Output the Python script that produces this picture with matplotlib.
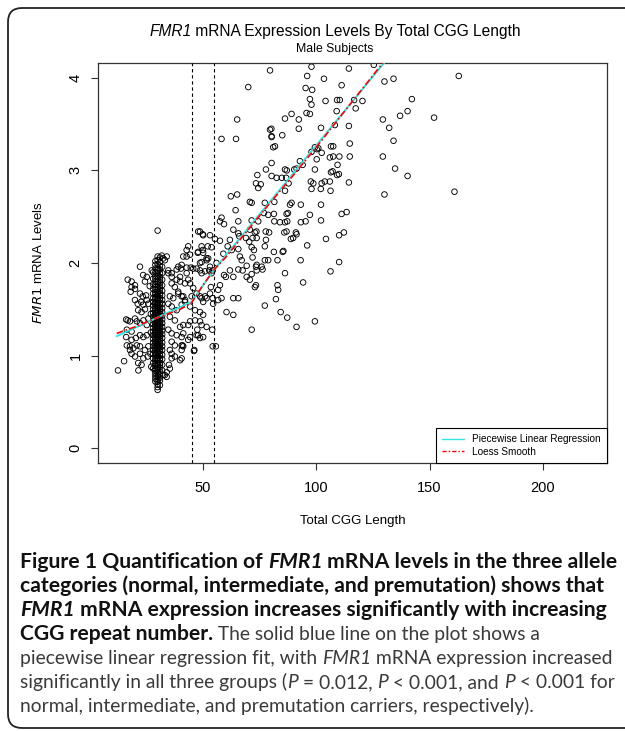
import matplotlib
matplotlib.use("Agg")
import matplotlib.pyplot as plt
from matplotlib.patches import FancyBboxPatch
from matplotlib.lines import Line2D

# ---- data ----
# dense column of normal alleles (CGG ~ 28-32)
col28_y = [0.86, 0.92, 0.97, 1.02, 1.06, 1.10, 1.14, 1.18, 1.22, 1.26, 1.30, 1.34, 1.38, 1.42, 1.46, 1.50,
           1.54, 1.58, 1.62, 1.67, 1.72, 1.77, 1.83, 1.90]
col29_y = [0.72, 0.75, 0.78, 0.81, 0.84, 0.86, 0.89, 0.91, 0.94, 0.96, 0.99, 1.01, 1.03, 1.06, 1.08, 1.10,
           1.13, 1.15, 1.17, 1.19, 1.22, 1.24, 1.26, 1.28, 1.31, 1.33, 1.35, 1.37, 1.40, 1.42, 1.44, 1.46,
           1.49, 1.51, 1.53, 1.56, 1.58, 1.61, 1.63, 1.66, 1.68, 1.71, 1.74, 1.77, 1.80, 1.83, 1.86, 1.90,
           1.94, 1.98, 2.02]
col30_y = [0.63, 0.66, 0.69, 0.72, 0.74, 0.77, 0.79, 0.82, 0.85, 0.87, 0.90, 0.92, 0.95, 0.97, 1.00, 1.02,
           1.04, 1.07, 1.09, 1.11, 1.13, 1.16, 1.18, 1.20, 1.22, 1.24, 1.26, 1.28, 1.30, 1.32, 1.34, 1.36,
           1.38, 1.40, 1.42, 1.44, 1.46, 1.48, 1.51, 1.53, 1.55, 1.57, 1.60, 1.62, 1.64, 1.67, 1.69, 1.72,
           1.74, 1.77, 1.80, 1.83, 1.86, 1.89, 1.92, 1.95, 1.99, 2.03, 2.07, 2.35]
col31_y = [0.68, 0.73, 0.76, 0.80, 0.83, 0.87, 0.90, 0.92, 0.95, 0.97, 1.00, 1.02, 1.05, 1.07, 1.09, 1.12,
           1.14, 1.16, 1.18, 1.21, 1.23, 1.25, 1.27, 1.30, 1.32, 1.34, 1.36, 1.39, 1.41, 1.43, 1.45, 1.48,
           1.50, 1.52, 1.55, 1.57, 1.60, 1.62, 1.65, 1.67, 1.70, 1.73, 1.76, 1.79, 1.82, 1.85, 1.89, 1.93,
           1.97, 2.01, 2.06]
col32_y = [0.84, 0.90, 0.96, 1.01, 1.06, 1.10, 1.14, 1.19, 1.23, 1.27, 1.31, 1.35, 1.39, 1.43, 1.47, 1.51,
           1.56, 1.60, 1.65, 1.70, 1.76, 1.82, 1.89, 1.96]

# scattered points left of the column
left_x = [22.2, 16.8, 18.5, 23.6, 25.2, 24.4, 18.1, 20.0, 22.2, 23.4, 24.9, 20.0, 21.2, 22.7, 23.7, 25.2,
          25.9, 21.4, 22.9, 24.4, 16.8, 17.8, 20.0, 20.8, 22.2, 23.7, 25.2, 25.9, 16.4, 18.5, 16.1, 18.5,
          20.4, 22.2, 23.7, 25.2, 16.4, 17.8, 19.3, 20.8, 22.2, 24.4, 25.9, 18.5, 20.0, 22.2, 23.7, 25.6,
          15.2, 21.4, 22.9, 12.5, 21.5, 17.8, 18.5, 20.0, 27.4, 26.5, 27.0, 27.0, 26.8, 27.2, 16.1]
left_y = [1.96, 1.82, 1.80, 1.87, 1.85, 1.80, 1.69, 1.72, 1.67, 1.64, 1.65, 1.60, 1.56, 1.58, 1.55, 1.60,
          1.56, 1.49, 1.47, 1.50, 1.38, 1.37, 1.40, 1.37, 1.35, 1.38, 1.33, 1.40, 1.28, 1.26, 1.20, 1.17,
          1.19, 1.22, 1.20, 1.22, 1.11, 1.10, 1.08, 1.11, 1.10, 1.06, 1.10, 1.02, 0.99, 1.02, 0.97, 0.99,
          0.94, 0.92, 0.90, 0.84, 0.84, 1.06, 1.74, 1.76, 1.92, 1.75, 1.45, 1.25, 1.02, 0.88, 1.39]

# points between the column and ~60 repeats
near_x = [34.7, 36.2, 33.2, 31.8, 39.1, 40.6, 42.8, 44.3, 47.9, 51.6, 53.1, 48.7, 36.2, 37.6, 39.9, 42.1,
          43.5, 39.1, 41.3, 36.9, 34.7, 36.2, 38.4, 40.6, 42.1, 44.3, 46.5, 48.7, 50.1, 47.2, 48.7, 50.1,
          51.6, 53.1, 54.5, 56.7, 58.2, 35.4, 37.6, 39.9, 41.3, 43.5, 44.3, 46.5, 48.7, 49.4, 47.5, 34.7,
          36.2, 38.4, 41.3, 40.6, 43.5, 44.3, 47.2, 48.7, 36.2, 37.6, 40.6, 41.3, 40.6, 46.0, 46.2, 54.3,
          55.7, 35.4, 36.2, 37.6, 40.6, 39.9, 35.0, 35.4, 34.0, 32.5, 36.2, 41.0, 47.9, 50.1, 54.1, 51.6,
          34.0, 32.5, 34.7, 36.2, 38.4, 39.9, 39.1, 35.4, 44.3, 45.7, 45.0, 42.8, 40.6, 42.1, 40.3, 42.8,
          44.6, 45.7, 38.4, 41.3, 50.1, 49.4, 49.9, 47.9, 49.9, 43.5, 42.8, 52.1, 53.8, 47.7, 53.1, 55.3,
          57.5, 48.7, 50.1, 47.2, 48.7, 49.4, 50.9, 52.8, 54.3, 51.6, 52.3, 49.4, 56.0, 53.5, 53.8, 56.7,
          57.5, 54.3, 49.4, 50.9, 34.0, 33.2]
near_y = [1.89, 1.85, 2.03, 2.08, 1.96, 1.98, 2.07, 2.09, 2.12, 2.05, 1.96, 2.00, 1.78, 1.74, 1.80, 1.78,
          1.82, 1.67, 1.64, 1.62, 1.56, 1.53, 1.49, 1.55, 1.58, 1.53, 1.49, 1.47, 1.44, 1.67, 1.64, 1.58,
          1.62, 1.67, 1.56, 1.60, 1.62, 1.42, 1.38, 1.31, 1.33, 1.33, 1.37, 1.38, 1.37, 1.33, 1.28, 1.28,
          1.24, 1.22, 1.24, 1.20, 1.17, 1.20, 1.22, 1.19, 1.15, 1.11, 1.11, 1.10, 1.06, 1.05, 1.06, 1.10,
          1.10, 1.06, 1.02, 0.99, 0.97, 0.95, 0.90, 0.86, 0.82, 0.79, 0.97, 1.11, 1.22, 1.20, 1.28, 1.31,
          2.07, 2.05, 1.92, 1.89, 1.82, 1.85, 1.69, 1.64, 1.78, 1.73, 1.64, 1.89, 1.64, 1.60, 1.94, 1.95,
          1.95, 1.94, 1.93, 2.07, 2.11, 2.18, 2.14, 2.34, 2.31, 2.18, 2.14, 2.18, 2.17, 2.11, 2.30, 2.26,
          2.24, 2.34, 2.30, 1.94, 1.92, 1.89, 1.91, 1.92, 1.92, 2.03, 2.05, 2.01, 2.00, 1.74, 1.89, 1.71,
          1.76, 1.62, 1.62, 1.64, 0.77, 0.79]

# intermediate / low premutation range (~58-72)
mid_x = [70.0, 65.1, 58.2, 64.6, 62.3, 65.1, 70.7, 64.4, 58.2, 57.5, 59.3, 65.6, 63.4, 65.6, 70.7, 69.0,
         61.9, 66.0, 60.9, 62.7, 65.6, 70.4, 71.5, 59.0, 67.1, 69.3, 66.3, 71.9, 59.3, 60.1, 65.6, 67.5,
         63.4, 69.3, 70.7, 72.9, 61.9, 63.4, 65.6, 60.4, 63.4, 71.5]
mid_y = [3.90, 3.55, 3.34, 3.34, 2.72, 2.74, 2.66, 2.57, 2.49, 2.45, 2.42, 2.45, 2.36, 2.32, 2.36, 2.27,
         2.25, 2.29, 2.18, 2.14, 2.15, 2.23, 2.17, 2.10, 2.03, 1.97, 2.07, 2.06, 1.87, 1.85, 1.93, 1.92,
         1.85, 1.85, 1.82, 1.74, 1.92, 1.62, 1.62, 1.47, 1.44, 1.28]

# premutation range (~72-125)
pm_x = [79.6, 97.9, 114.4, 125.4, 96.0, 103.4, 111.2, 95.3, 98.2, 97.2, 104.1, 109.2, 110.4, 116.7, 120.4,
        97.9, 117.4, 86.2, 89.1, 92.3, 95.7, 97.2, 109.0, 79.6, 80.2, 92.3, 102.1, 108.2, 114.4, 85.0,
        80.3, 81.0, 81.8, 99.4, 106.5, 107.5, 114.8, 97.9, 100.2, 106.0, 107.5, 114.8, 100.2, 80.3, 109.4,
        74.0, 77.8, 86.2, 87.0, 90.3, 91.3, 80.3, 82.5, 99.4, 106.5, 107.2, 109.2, 110.0, 73.4, 75.5,
        74.4, 84.8, 86.7, 87.8, 97.6, 98.7, 102.4, 103.8, 106.0, 86.2, 97.9, 102.0, 106.3, 114.4, 77.3,
        81.5, 88.4, 89.1, 93.2, 102.1, 71.5, 76.9, 78.8, 81.3, 86.9, 87.5, 97.2, 111.2, 113.4, 71.5,
        74.4, 81.5, 84.0, 86.2, 87.2, 93.2, 95.3, 102.1, 72.9, 73.6, 77.7, 79.2, 85.9, 86.9, 91.0, 91.3,
        104.3, 110.1, 112.2, 71.9, 73.7, 77.8, 88.8, 89.8, 77.3, 85.2, 85.5, 96.0, 72.5, 81.3, 77.3,
        78.8, 82.9, 93.1, 110.1, 73.7, 73.4, 75.9, 71.5, 73.7, 76.3, 86.2, 106.3, 73.4, 82.9, 83.2,
        94.2, 82.2, 77.3, 84.3, 87.2, 99.4, 91.3, 92.8, 94.0, 102.4, 110.2, 100.9, 80.3]
pm_y = [4.08, 4.12, 4.10, 4.14, 4.02, 3.99, 3.92, 3.89, 3.87, 3.77, 3.75, 3.76, 3.76, 3.76, 3.75,
        3.71, 3.67, 3.56, 3.61, 3.55, 3.62, 3.61, 3.64, 3.44, 3.45, 3.45, 3.46, 3.49, 3.48, 3.38,
        3.36, 3.25, 3.26, 3.25, 3.26, 3.26, 3.29, 3.20, 3.23, 3.14, 3.15, 3.15, 3.12, 3.08, 3.06,
        2.95, 3.01, 3.01, 3.00, 3.01, 3.02, 2.94, 2.92, 3.01, 2.98, 2.99, 2.95, 2.96, 2.86, 2.85,
        2.81, 2.92, 2.92, 2.86, 2.88, 2.86, 2.86, 2.88, 2.88, 2.78, 2.80, 2.80, 2.78, 2.87, 2.65,
        2.66, 2.63, 2.65, 2.63, 2.63, 2.65, 2.54, 2.52, 2.53, 2.53, 2.54, 2.52, 2.53, 2.55, 2.46,
        2.45, 2.45, 2.44, 2.44, 2.45, 2.44, 2.45, 2.46, 2.33, 2.34, 2.34, 2.33, 2.33, 2.34, 2.33, 2.31,
        2.26, 2.30, 2.33, 2.27, 2.27, 2.25, 2.26, 2.27, 2.18, 2.12, 2.13, 2.19, 2.14, 2.12, 2.03,
        2.03, 2.03, 2.03, 2.01, 1.98, 1.96, 1.96, 1.88, 1.92, 1.93, 1.89, 1.91, 1.76, 1.76, 1.71,
        1.79, 1.61, 1.54, 1.47, 1.41, 1.37, 1.31, 3.10, 3.06, 3.19, 3.15, 3.24, 3.37]

# large premutation alleles
hi_x = [130.1, 134.1, 162.9, 142.2, 129.4, 137.0, 140.3, 152.0, 132.2, 134.1, 129.4, 134.8, 140.3, 130.1, 161.0]
hi_y = [3.96, 3.99, 4.02, 3.77, 3.55, 3.59, 3.64, 3.57, 3.46, 3.32, 3.15, 3.02, 2.94, 2.74, 2.77]

# fitted curves
pw_x = [12.0, 45.0, 55.0, 140.0]
pw_y = [1.21, 1.58, 1.93, 4.46]
lo_x = [12.0, 20.0, 30.0, 40.0, 45.0, 50.0, 55.0, 60.0, 70.0, 80.0, 90.0, 100.0, 110.0, 120.0, 130.0, 140.0]
lo_y = [1.24, 1.31, 1.41, 1.50, 1.57, 1.76, 1.93, 2.06, 2.36, 2.66, 2.95, 3.25, 3.56, 3.87, 4.18, 4.48]

cut_points = [45, 55]

all_x = ([28] * len(col28_y) + [29] * len(col29_y) + [30] * len(col30_y) + [31] * len(col31_y)
         + [32] * len(col32_y) + left_x + near_x + mid_x + pm_x + hi_x)
all_y = col28_y + col29_y + col30_y + col31_y + col32_y + left_y + near_y + mid_y + pm_y + hi_y

W, H = 625, 731
fig = plt.figure(figsize=(W / 100, H / 100), dpi=100)
ax = fig.add_axes([98 / W, 1 - 463 / H, 509 / W, 400 / H])

ax.scatter(all_x, all_y, s=16, facecolors='none', edgecolors='black', linewidths=0.65, zorder=2)
for c in cut_points:
    ax.axvline(c, color='black', lw=0.8, ls=(0, (3, 2.5)), zorder=3)
ax.plot(pw_x, pw_y, color='#33e6e6', lw=1.4, zorder=4)
ax.plot(lo_x, lo_y, color='red', lw=1.2, ls=(0, (4, 1.5, 1, 1.5)), zorder=5)

ax.set_xlim(3.68, 228.32)
ax.set_ylim(-0.16, 4.16)
ax.set_xticks([50, 100, 150, 200])
ax.set_yticks([0, 1, 2, 3, 4])
ax.tick_params(direction='out', length=5, width=0.8, labelsize=10.5, color='#333333')
ax.tick_params(axis='x', pad=8)
ax.tick_params(axis='y', pad=6)
plt.setp(ax.get_yticklabels(), rotation=90, va='center')
for lab in ax.get_xticklabels() + ax.get_yticklabels():
    lab.set_family('Liberation Sans')
for sp in ax.spines.values():
    sp.set_linewidth(0.9)
    sp.set_color('#333333')

ax.set_xlabel('Total CGG Length', family='Liberation Sans', fontsize=9.5)
ax.xaxis.set_label_coords(0.5, -0.13)
ax.set_ylabel(r'$\it{FMR1}$ mRNA Levels', family='Liberation Sans', fontsize=9.5)
ax.yaxis.set_label_coords(-0.104, 0.5)

handles = [Line2D([], [], color='#33e6e6', lw=1.0),
           Line2D([], [], color='red', lw=1.0, ls=(0, (3, 1.5, 1, 1.5)))]
leg = ax.legend(handles, ['Piecewise Linear Regression', 'Loess Smooth'], loc='lower right',
                borderaxespad=0, fancybox=False, edgecolor='black', framealpha=1,
                prop={'family': 'Liberation Sans', 'size': 7.2}, handlelength=2.2,
                borderpad=0.6, labelspacing=0.25)
leg.get_frame().set_linewidth(0.8)

renderer = fig.canvas.get_renderer()


def make_texts(y_px, segs, sizes, family):
    out = []
    for s, weight, style, color in segs:
        out.append(fig.text(0, 1 - y_px / H, s, fontsize=sizes[weight], family=family,
                            weight=weight, style=style, color=color, va='baseline'))
    return out


def put_line(x_px, y_px, segs, sizes, family, center=False):
    texts = make_texts(y_px, segs, sizes, family)
    widths = [t.get_window_extent(renderer).width for t in texts]
    start = x_px - sum(widths) / 2 if center else x_px
    for t, w in zip(texts, widths):
        t.set_x(start / W)
        start += w


def line_width(segs, sizes, family):
    texts = make_texts(0, segs, sizes, family)
    w = sum(t.get_window_extent(renderer).width for t in texts)
    for t in texts:
        t.remove()
    return w


put_line(335, 36, [('FMR1', 'normal', 'italic', 'black'),
                   (' mRNA Expression Levels By Total CGG Length', 'normal', 'normal', 'black')],
         {'normal': 11.2}, 'Liberation Sans', center=True)
put_line(335, 52, [('Male Subjects', 'normal', 'normal', 'black')], {'normal': 8.8},
         'Liberation Sans', center=True)

B, R = '#111111', '#3a3a3a'
cap = [
    [('Figure 1 Quantification of ', 'bold', 'normal', B), ('FMR1', 'bold', 'italic', B),
     (' mRNA levels in the three allele', 'bold', 'normal', B)],
    [('categories (normal, intermediate, and premutation) shows that', 'bold', 'normal', B)],
    [('FMR1', 'bold', 'italic', B), (' mRNA expression increases significantly with increasing', 'bold', 'normal', B)],
    [('CGG repeat number.', 'bold', 'normal', B), (' The solid blue line on the plot shows a', 'normal', 'normal', R)],
    [('piecewise linear regression fit, with ', 'normal', 'normal', R), ('FMR1', 'normal', 'italic', R),
     (' mRNA expression increased', 'normal', 'normal', R)],
    [('significantly in all three groups (', 'normal', 'normal', R), ('P', 'normal', 'italic', R),
     (' = 0.012, ', 'normal', 'normal', R), ('P', 'normal', 'italic', R),
     (' < 0.001, and ', 'normal', 'normal', R), ('P', 'normal', 'italic', R),
     (' < 0.001 for', 'normal', 'normal', R)],
    [('normal, intermediate, and premutation carriers, respectively).', 'normal', 'normal', R)],
]
# fit the caption to the column width of the reference (20..612 px)
base = {'bold': 12.0, 'normal': 12.0}
sizes = {'bold': 12.0 * 592 / line_width(cap[0], base, 'Lato'),
         'normal': 12.0 * 592 / line_width(cap[4], base, 'Lato')}
cap_y = [568, 592, 616, 640, 664, 688, 712]
for segs, y in zip(cap, cap_y):
    put_line(20, y, segs, sizes, 'Lato')

box = FancyBboxPatch((0.08, 0.03), 6.8, 7.2, boxstyle='round,pad=0,rounding_size=0.14',
                     transform=fig.dpi_scale_trans, fill=False, edgecolor='#222222', lw=1.3)
fig.patches.append(box)

fig.savefig('out.png', dpi=100)
